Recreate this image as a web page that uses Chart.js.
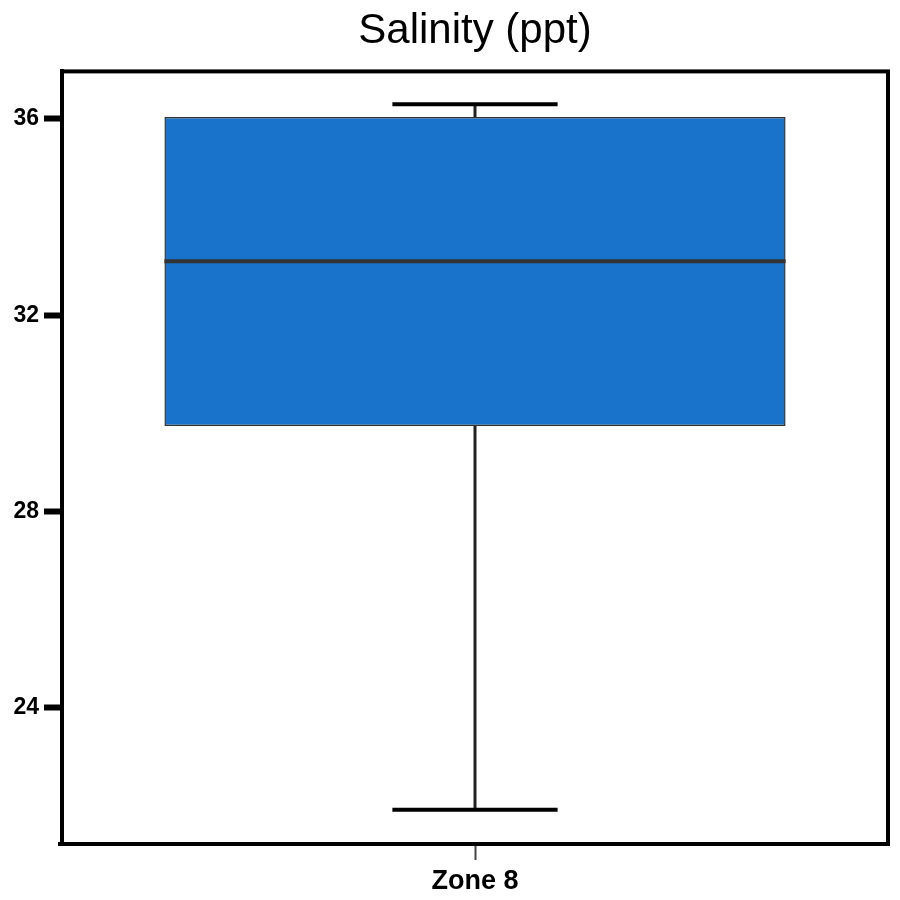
<!DOCTYPE html>
<html lang="en">
<head>
    <meta charset="UTF-8">
    <title>Salinity (ppt)</title>
    <script src="https://cdn.jsdelivr.net/npm/chart.js"></script>
    <style>
        body { margin: 0; background: #fff; }
        #wrap { width: 900px; height: 900px; }
    </style>
</head>
<body>
<div id="wrap"><canvas id="boxChart" width="900" height="900"></canvas></div>
<script>
    // data
    const zones = ['Zone 8'];
    const whiskerLow = [21.92];
    const q1 = [29.74];
    const median = [33.10];
    const q3 = [36.04];
    const whiskerHigh = [36.30];
    const yTicks = [24, 28, 32, 36];

    // whiskers, caps and median, placed with the chart's own scales
    const boxExtras = {
        id: 'boxExtras',
        afterDatasetsDraw(chart) {
            const ctx = chart.ctx;
            const y = chart.scales.y;
            const meta = chart.getDatasetMeta(0);
            meta.data.forEach((bar, i) => {
                const cx = bar.x;
                const half = bar.width / 2;
                const capHalf = bar.width * 0.133;
                ctx.save();
                ctx.lineCap = 'butt';
                // whisker stems
                ctx.strokeStyle = '#222';
                ctx.lineWidth = 3;
                ctx.beginPath();
                ctx.moveTo(cx, y.getPixelForValue(q3[i]));
                ctx.lineTo(cx, y.getPixelForValue(whiskerHigh[i]));
                ctx.moveTo(cx, y.getPixelForValue(q1[i]));
                ctx.lineTo(cx, y.getPixelForValue(whiskerLow[i]));
                ctx.stroke();
                // caps
                ctx.strokeStyle = '#000';
                ctx.lineWidth = 4;
                ctx.beginPath();
                ctx.moveTo(cx - capHalf, y.getPixelForValue(whiskerHigh[i]));
                ctx.lineTo(cx + capHalf, y.getPixelForValue(whiskerHigh[i]));
                ctx.moveTo(cx - capHalf, y.getPixelForValue(whiskerLow[i]));
                ctx.lineTo(cx + capHalf, y.getPixelForValue(whiskerLow[i]));
                ctx.stroke();
                // median
                ctx.strokeStyle = '#333';
                ctx.lineWidth = 4;
                ctx.beginPath();
                ctx.moveTo(cx - half, y.getPixelForValue(median[i]));
                ctx.lineTo(cx + half, y.getPixelForValue(median[i]));
                ctx.stroke();
                ctx.restore();
            });
        }
    };

    // black frame round the plot area
    const frame = {
        id: 'frame',
        afterDraw(chart) {
            const a = chart.chartArea;
            const ctx = chart.ctx;
            ctx.save();
            ctx.strokeStyle = '#000';
            ctx.lineWidth = 4;
            ctx.strokeRect(a.left, a.top, a.right - a.left, a.bottom - a.top);
            // bottom axis line runs a little past the left edge
            ctx.beginPath();
            ctx.moveTo(a.left - 4, a.bottom);
            ctx.lineTo(a.left, a.bottom);
            ctx.stroke();
            ctx.restore();
        }
    };

    new Chart(document.getElementById('boxChart').getContext('2d'), {
        type: 'bar',
        data: {
            labels: zones,
            datasets: [{
                label: 'Salinity',
                data: zones.map((z, i) => [q1[i], q3[i]]),
                backgroundColor: '#1a73cb',
                borderColor: '#333',
                borderWidth: 1.5,
                borderSkipped: false,
                categoryPercentage: 1,
                barPercentage: 0.752
            }]
        },
        options: {
            responsive: false,
            animation: false,
            layout: { padding: { left: 0, right: 12, top: 0, bottom: 0 } },
            plugins: {
                legend: { display: false },
                tooltip: { enabled: false },
                title: {
                    display: true,
                    fullSize: false,
                    text: 'Salinity (ppt)',
                    color: '#000',
                    font: { family: 'Liberation Sans, Arial', size: 42, weight: 'normal' },
                    padding: { top: 6, bottom: 15 }
                }
            },
            scales: {
                x: {
                    grid: { offset: false, drawOnChartArea: false, drawTicks: true, tickLength: 16, tickWidth: 2, tickColor: '#444' },
                    border: { display: true, color: '#000', width: 4 },
                    ticks: {
                        color: '#000',
                        padding: 5,
                        font: { family: 'Liberation Sans, Arial', size: 27, weight: 'bold' }
                    },
                    afterFit(scale) { scale.height = 56; }
                },
                y: {
                    min: 21.22,
                    max: 36.97,
                    afterBuildTicks(scale) { scale.ticks = yTicks.map(v => ({ value: v })); },
                    grid: { drawOnChartArea: false, drawTicks: true, tickLength: 18, tickWidth: 6, tickColor: '#000' },
                    border: { display: true, color: '#000', width: 4 },
                    ticks: {
                        color: '#000',
                        padding: 5,
                        font: { family: 'Liberation Sans, Arial', size: 23, weight: 'bold' }
                    },
                    afterFit(scale) { scale.width = 62; }
                }
            }
        },
        plugins: [boxExtras, frame]
    });
</script>
</body>
</html>
